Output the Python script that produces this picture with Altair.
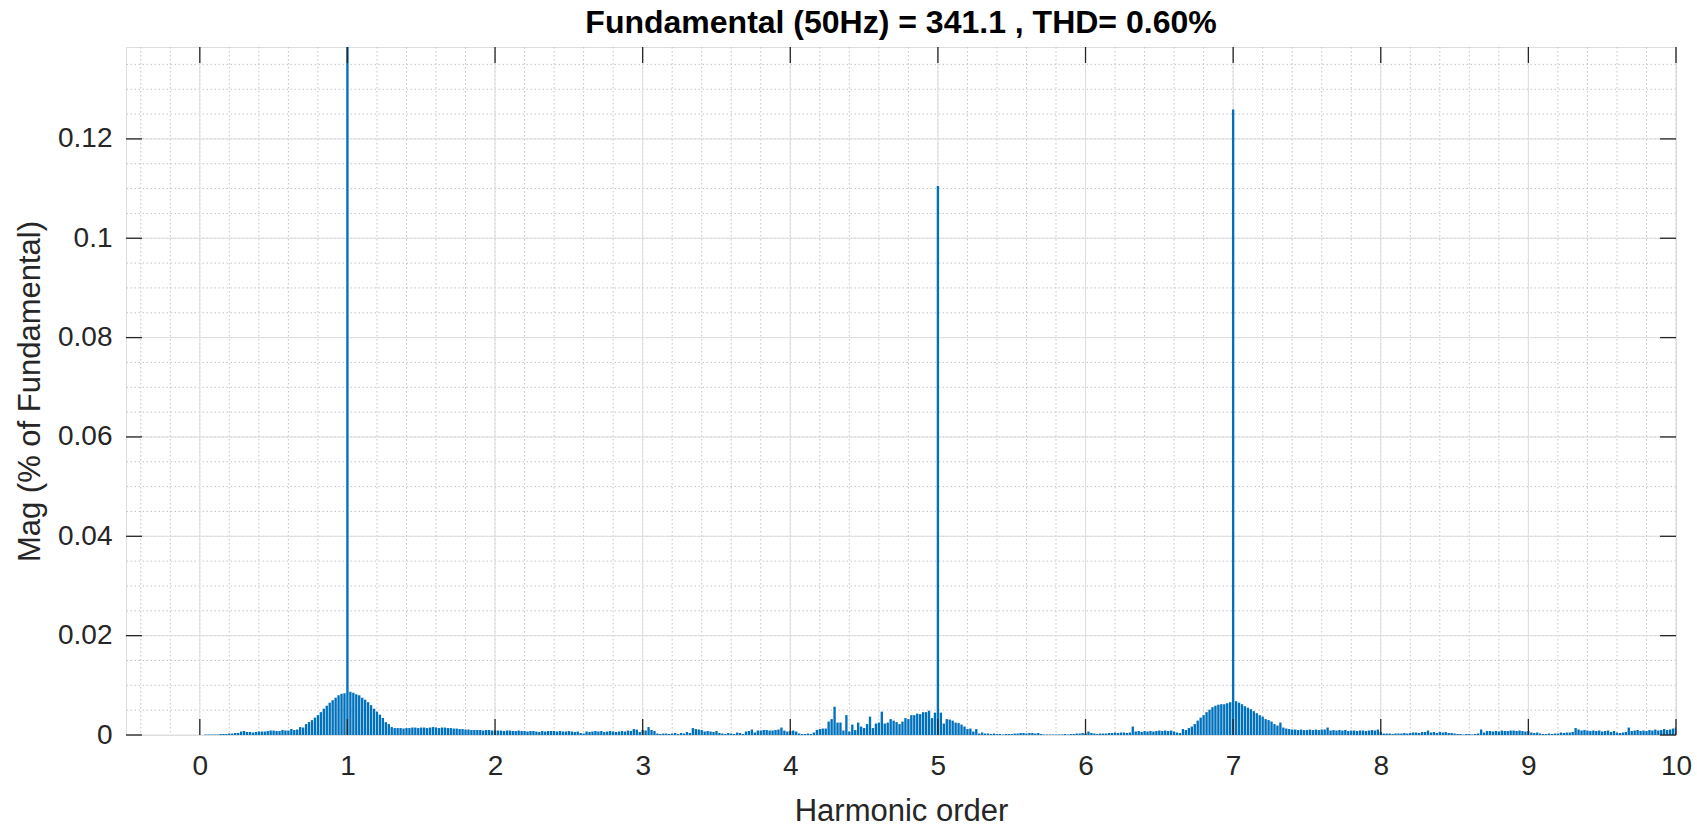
import altair as alt
import pandas as pd

# Harmonic spectrum, 1 Hz resolution (0.02 harmonic order per bin at 50 Hz).
STEP = 0.02
TITLE = "Fundamental (50Hz) = 341.1 , THD= 0.60%"

# magnitude (% of fundamental), one list per harmonic interval [k, k+1)
mag_h0 = [0.0000, 0.0000, 0.0001, 0.0001, 0.0001, 0.0001, 0.0001, 0.0002, 0.0002, 0.0002,
          0.0003, 0.0003, 0.0004, 0.0004, 0.0007, 0.0008, 0.0006, 0.0006, 0.0005, 0.0006,
          0.0007, 0.0007, 0.0007, 0.0008, 0.0009, 0.0009, 0.0008, 0.0008, 0.0010, 0.0009,
          0.0009, 0.0012, 0.0010, 0.0011, 0.0016, 0.0015, 0.0022, 0.0026, 0.0030, 0.0035,
          0.0040, 0.0046, 0.0053, 0.0059, 0.0065, 0.0070, 0.0075, 0.0080, 0.0083, 0.0084]
mag_h1 = [100.0, 0.0087, 0.0085, 0.0082, 0.0080, 0.0075, 0.0071, 0.0066, 0.0060, 0.0053,
          0.0047, 0.0041, 0.0034, 0.0026, 0.0022, 0.0016, 0.0014, 0.0014, 0.0014, 0.0013,
          0.0014, 0.0014, 0.0015, 0.0015, 0.0014, 0.0015, 0.0015, 0.0014, 0.0015, 0.0016,
          0.0015, 0.0014, 0.0015, 0.0015, 0.0014, 0.0014, 0.0013, 0.0013, 0.0012, 0.0012,
          0.0011, 0.0011, 0.0010, 0.0010, 0.0010, 0.0010, 0.0009, 0.0010, 0.0010, 0.0009]
mag_h2 = [0.0009, 0.0009, 0.0009, 0.0008, 0.0009, 0.0009, 0.0008, 0.0008, 0.0009, 0.0008,
          0.0008, 0.0007, 0.0008, 0.0008, 0.0007, 0.0006, 0.0008, 0.0007, 0.0008, 0.0008,
          0.0008, 0.0007, 0.0008, 0.0007, 0.0007, 0.0008, 0.0007, 0.0006, 0.0007, 0.0004,
          0.0003, 0.0007, 0.0006, 0.0007, 0.0008, 0.0007, 0.0008, 0.0006, 0.0007, 0.0008,
          0.0007, 0.0006, 0.0007, 0.0008, 0.0007, 0.0009, 0.0008, 0.0012, 0.0011, 0.0006]
mag_h3 = [0.0010, 0.0009, 0.0016, 0.0010, 0.0008, 0.0003, 0.0002, 0.0003, 0.0003, 0.0002,
          0.0003, 0.0004, 0.0002, 0.0004, 0.0003, 0.0006, 0.0004, 0.0014, 0.0012, 0.0011,
          0.0010, 0.0007, 0.0008, 0.0007, 0.0006, 0.0008, 0.0004, 0.0003, 0.0002, 0.0004,
          0.0003, 0.0002, 0.0005, 0.0004, 0.0002, 0.0007, 0.0008, 0.0011, 0.0005, 0.0009,
          0.0009, 0.0010, 0.0010, 0.0009, 0.0009, 0.0010, 0.0011, 0.0015, 0.0009, 0.0007]
mag_h4 = [0.0008, 0.0009, 0.0007, 0.0003, 0.0002, 0.0002, 0.0003, 0.0002, 0.0005, 0.0010,
          0.0012, 0.0013, 0.0013, 0.0027, 0.0032, 0.0057, 0.0025, 0.0025, 0.0009, 0.0040,
          0.0007, 0.0021, 0.0010, 0.0025, 0.0017, 0.0014, 0.0022, 0.0037, 0.0014, 0.0023,
          0.0025, 0.0047, 0.0023, 0.0025, 0.0032, 0.0029, 0.0026, 0.0022, 0.0027, 0.0034,
          0.0032, 0.0040, 0.0040, 0.0043, 0.0042, 0.0046, 0.0046, 0.0049, 0.0034, 0.0045]
mag_h5 = [0.1105, 0.0045, 0.0023, 0.0032, 0.0031, 0.0029, 0.0025, 0.0024, 0.0021, 0.0017,
          0.0012, 0.0013, 0.0007, 0.0012, 0.0003, 0.0005, 0.0003, 0.0003, 0.0002, 0.0003,
          0.0002, 0.0002, 0.0001, 0.0002, 0.0002, 0.0002, 0.0003, 0.0003, 0.0004, 0.0004,
          0.0003, 0.0004, 0.0004, 0.0003, 0.0004, 0.0002, 0.0001, 0.0001, 0.0001, 0.0001,
          0.0001, 0.0001, 0.0001, 0.0002, 0.0001, 0.0002, 0.0002, 0.0003, 0.0003, 0.0004]
mag_h6 = [0.0003, 0.0007, 0.0004, 0.0003, 0.0002, 0.0003, 0.0003, 0.0003, 0.0004, 0.0004,
          0.0005, 0.0004, 0.0005, 0.0005, 0.0004, 0.0005, 0.0017, 0.0007, 0.0008, 0.0006,
          0.0008, 0.0007, 0.0008, 0.0007, 0.0008, 0.0009, 0.0008, 0.0009, 0.0008, 0.0009,
          0.0007, 0.0005, 0.0004, 0.0012, 0.0010, 0.0014, 0.0017, 0.0022, 0.0029, 0.0035,
          0.0040, 0.0046, 0.0051, 0.0056, 0.0059, 0.0061, 0.0062, 0.0062, 0.0064, 0.0066]
mag_h7 = [0.1259, 0.0068, 0.0065, 0.0062, 0.0058, 0.0055, 0.0052, 0.0048, 0.0044, 0.0040,
          0.0037, 0.0032, 0.0030, 0.0027, 0.0022, 0.0019, 0.0025, 0.0015, 0.0013, 0.0012,
          0.0011, 0.0011, 0.0010, 0.0011, 0.0010, 0.0010, 0.0011, 0.0010, 0.0011, 0.0010,
          0.0011, 0.0011, 0.0015, 0.0009, 0.0010, 0.0009, 0.0010, 0.0009, 0.0010, 0.0008,
          0.0009, 0.0009, 0.0008, 0.0009, 0.0009, 0.0008, 0.0009, 0.0010, 0.0009, 0.0011]
mag_h8 = [0.0006, 0.0003, 0.0003, 0.0003, 0.0002, 0.0003, 0.0003, 0.0003, 0.0004, 0.0003,
          0.0004, 0.0005, 0.0005, 0.0004, 0.0006, 0.0006, 0.0009, 0.0005, 0.0006, 0.0004,
          0.0006, 0.0005, 0.0006, 0.0004, 0.0004, 0.0003, 0.0002, 0.0002, 0.0001, 0.0002,
          0.0002, 0.0001, 0.0002, 0.0003, 0.0011, 0.0005, 0.0008, 0.0008, 0.0007, 0.0008,
          0.0007, 0.0009, 0.0008, 0.0008, 0.0009, 0.0009, 0.0008, 0.0009, 0.0008, 0.0007]
mag_h9 = [0.0008, 0.0005, 0.0004, 0.0005, 0.0003, 0.0002, 0.0002, 0.0003, 0.0002, 0.0003,
          0.0003, 0.0005, 0.0004, 0.0005, 0.0005, 0.0006, 0.0014, 0.0011, 0.0009, 0.0010,
          0.0009, 0.0008, 0.0009, 0.0008, 0.0009, 0.0007, 0.0008, 0.0009, 0.0006, 0.0008,
          0.0005, 0.0004, 0.0005, 0.0006, 0.0015, 0.0008, 0.0009, 0.0010, 0.0008, 0.0009,
          0.0008, 0.0010, 0.0009, 0.0011, 0.0009, 0.0010, 0.0012, 0.0010, 0.0011, 0.0013]
mag_h10 = [0.0015]

x_ticks = list(range(0, 11))
y_ticks = [0, 0.02, 0.04, 0.06, 0.08, 0.1, 0.12]
x_minor = [round(-0.4 + 0.2 * i, 1) for i in range(53)]
y_minor = [round(0.005 * i, 3) for i in range(1, 28)]

rows = []
for k, seg in enumerate([mag_h0, mag_h1, mag_h2, mag_h3, mag_h4, mag_h5,
                         mag_h6, mag_h7, mag_h8, mag_h9, mag_h10]):
    for i, v in enumerate(seg):
        rows.append({"order": round(k + i * STEP, 2), "mag": v})
spec = pd.DataFrame(rows)

W, H = 1550, 688
TICK = 16
INK = "#262626"
FONT = "Liberation Sans"

xs = alt.Scale(domain=[-0.5, 10], nice=False, zero=False)
ys = alt.Scale(domain=[0, 0.1385], nice=False, zero=False)

x_axis = alt.Axis(values=x_ticks, grid=False, ticks=False, domain=False,
                  labelFontSize=28, labelColor=INK, labelFont=FONT,
                  labelPadding=17, labelFlush=False,
                  title="Harmonic order", titleFontSize=31, titleFont=FONT,
                  titleFontWeight="normal", titleColor=INK,
                  titleX=W / 2, titleY=76, titleBaseline="middle", titleAlign="center")
y_axis = alt.Axis(values=y_ticks, format="~g", grid=False, ticks=False, domain=False,
                  labelFontSize=28, labelColor=INK, labelFont=FONT, labelPadding=14,
                  title="Mag (% of Fundamental)", titleFontSize=31, titleFont=FONT,
                  titleFontWeight="normal", titleColor=INK,
                  titleX=-96, titleY=H / 2, titleAngle=270,
                  titleAlign="center", titleBaseline="middle")

base = alt.Chart(spec)

# grid: dotted minor lines, solid major lines
minor_v = alt.Chart(pd.DataFrame({"order": x_minor})).mark_rule(
    color="#c4c4c4", strokeDash=[1.5, 2.5], strokeWidth=1
).encode(x=alt.X("order:Q", scale=xs, axis=x_axis))
minor_h = alt.Chart(pd.DataFrame({"mag": y_minor})).mark_rule(
    color="#c4c4c4", strokeDash=[1.5, 2.5], strokeWidth=1
).encode(y=alt.Y("mag:Q", scale=ys, axis=y_axis))
major_v = alt.Chart(pd.DataFrame({"order": x_ticks})).mark_rule(
    color="#dedede", strokeWidth=1
).encode(x=alt.X("order:Q", scale=xs, axis=x_axis))
major_h = alt.Chart(pd.DataFrame({"mag": y_ticks})).mark_rule(
    color="#dedede", strokeWidth=1
).encode(y=alt.Y("mag:Q", scale=ys, axis=y_axis))

# spectrum bars, 0.8 of the bin width, from zero up to the magnitude
bars = base.transform_calculate(
    lo="datum.order - 0.008", hi="datum.order + 0.008"
).mark_bar(clip=True, color="#0072BD").encode(
    x=alt.X("lo:Q", scale=xs, axis=x_axis),
    x2="hi:Q",
    y=alt.Y("mag:Q", scale=ys, axis=y_axis),
    y2=alt.datum(0),
)

# inward ticks on all four sides of the box
xt = alt.Chart(pd.DataFrame({"order": x_ticks}))
yt = alt.Chart(pd.DataFrame({"mag": y_ticks}))
tick_b = xt.mark_rule(color=INK, strokeWidth=1.3).encode(
    x=alt.X("order:Q", scale=xs, axis=x_axis), y=alt.value(H), y2=alt.value(H - TICK))
tick_t = xt.mark_rule(color=INK, strokeWidth=1.3).encode(
    x=alt.X("order:Q", scale=xs, axis=x_axis), y=alt.value(0), y2=alt.value(TICK))
tick_l = yt.mark_rule(color=INK, strokeWidth=1.3).encode(
    y=alt.Y("mag:Q", scale=ys, axis=y_axis), x=alt.value(0), x2=alt.value(TICK))
tick_r = yt.mark_rule(color=INK, strokeWidth=1.3).encode(
    y=alt.Y("mag:Q", scale=ys, axis=y_axis), x=alt.value(W - TICK), x2=alt.value(W))

chart = alt.layer(
    minor_v, minor_h, major_v, major_h, bars, tick_b, tick_t, tick_l, tick_r
).properties(
    width=W, height=H,
    padding={"left": 126, "top": 47, "right": 21, "bottom": 92},
    autosize=alt.AutoSizeParams(type="none"),
    title=alt.Title(TITLE, fontSize=32, fontWeight="bold", font=FONT, color="#000000",
                    anchor="middle", frame="group", offset=6),
).configure_view(
    stroke=INK, strokeWidth=1.5
).configure(background="white")

chart.save("out.html", embed_options={"renderer": "svg", "actions": False})
